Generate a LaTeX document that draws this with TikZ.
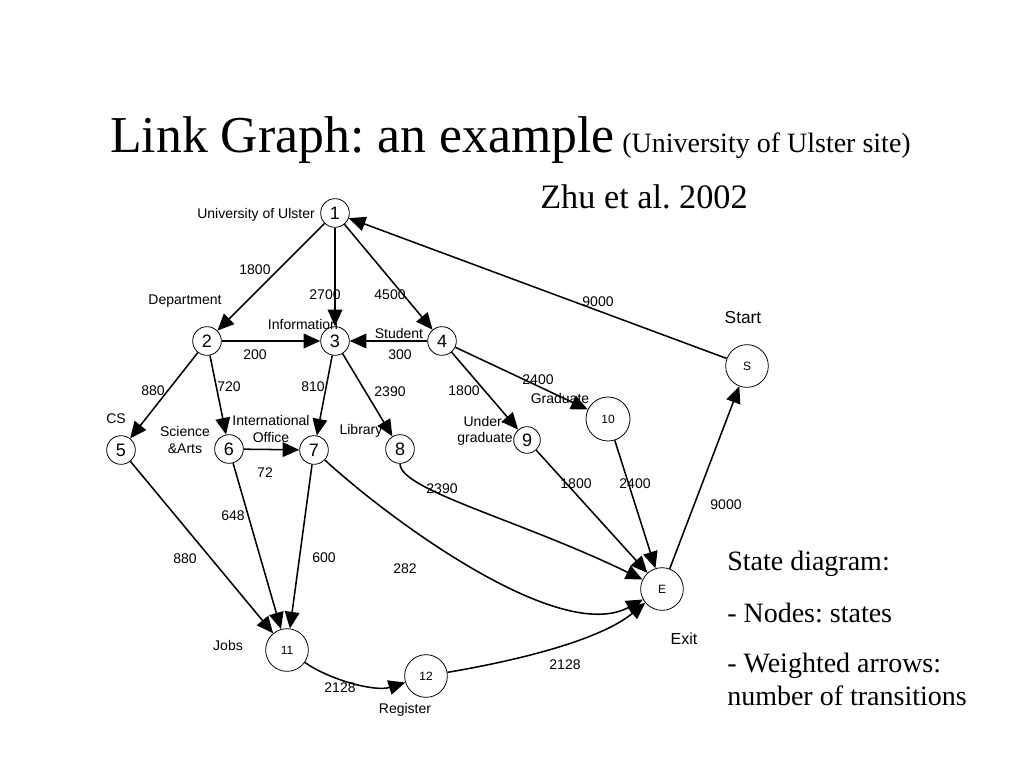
\documentclass[tikz,border=0pt]{standalone}
\usepackage{fontspec}
\setmainfont{Liberation Serif}
\setsansfont{Liberation Sans}
\usetikzlibrary{arrows.meta}
\frenchspacing
\begin{document}
\begin{tikzpicture}[x=0.75pt,y=-0.75pt,
  st/.style={circle,draw,line width=0.6pt,inner sep=0pt,minimum size=21.5pt,font=\sffamily\fontsize{13.5}{13.5}\selectfont},
  bst/.style={circle,draw,line width=0.6pt,inner sep=0pt,minimum size=32pt,font=\sffamily\fontsize{9}{9}\selectfont},
  lab/.style={font=\sffamily\fontsize{10.5}{12.5}\selectfont,inner sep=0pt,align=center},
  wt/.style={font=\sffamily\fontsize{10.5}{12}\selectfont,inner sep=0pt},
  big/.style={font=\fontsize{21}{21}\selectfont,inner sep=0pt,anchor=base west},
  edge/.style={line width=1.15pt,-{Triangle[length=12.5pt,width=11pt]}},
]
\useasboundingbox (0,0) rectangle (1024,768);

% titles
\node[font=\fontsize{38.8}{38.8}\selectfont,inner sep=0pt,anchor=base west] (title) at (110,152) {Link Graph: an example};
\node[font=\fontsize{21}{21}\selectfont,inner sep=0pt,anchor=base west] (sub) at (622,152) {(University of Ulster site)};
\node[font=\fontsize{25.7}{25.7}\selectfont,inner sep=0pt,anchor=base west] (zhu) at (540,208) {Zhu et al. 2002};

\node[big] (t1) at (727,570) {State diagram:};
\node[big] (t2) at (727,622) {- Nodes: states};
\node[big] (t3) at (727,672) {- Weighted arrows:};
\node[big] (t4) at (727,705) {number of transitions};

% nodes
\node[st] (n1) at (335,213) {1};
\node[st] (n2) at (207,341) {2};
\node[st] (n3) at (335,341) {3};
\node[st] (n4) at (442,341) {4};
\node[st] (n5) at (121,450) {5};
\node[st] (n6) at (229,449) {6};
\node[st] (n7) at (314,450) {7};
\node[st] (n8) at (400,449) {8};
\node[st,minimum size=20pt] (n9) at (527,440) {9};
\node[bst,minimum size=33pt] (n10) at (608,419) {10};
\node[bst] (nS) at (747,366) {S};
\node[bst] (nE) at (662,589) {E};
\node[bst] (n11) at (287,650) {11};
\node[bst] (n12) at (426,676) {12};

% node labels
\node[lab,anchor=east] (l1) at (315,215) {University of Ulster};
\node[lab] (l2) at (185,301) {Department};
\node[lab] (l3) at (303,324) {Information};
\node[lab] (l4) at (399,333) {Student};
\node[lab] (l5) at (116,419) {CS};
\node[lab] (l6) at (185,440) {Science\\\&Arts};
\node[lab] (l7) at (271,429) {International\\Office};
\node[lab] (l8) at (361,431) {Library};
\node[lab] (l9) at (485,431) {Under-\\graduate};
\node[lab] (l10) at (560,398) {Graduate};
\node[lab,font=\sffamily\fontsize{13}{13}\selectfont] (lS) at (743,318) {Start};
\node[lab,font=\sffamily\fontsize{12}{12}\selectfont] (lE) at (684,639) {Exit};
\node[lab] (l11) at (228,645) {Jobs};
\node[lab] (l12) at (405,710) {Register};

% edges
\draw[edge] (n1) -- (n2);
\draw[edge] (n1) -- (n3);
\draw[edge] (n1) -- (n4);
\draw[edge] (nS) -- (n1);
\draw[edge] (n2) -- (n3);
\draw[edge] (n4) -- (n3);
\draw[edge] (n2) -- (n5);
\draw[edge] (n2) -- (n6);
\draw[edge] (n3) -- (n7);
\draw[edge] (n3) -- (n8);
\draw[edge] (n4) -- (n9);
\draw[edge] (n4) -- (n10);
\draw[edge] (n6) -- (n7);
\draw[edge] (n5) -- (n11);
\draw[edge] (n6) -- (n11);
\draw[edge] (n7) -- (n11);
\draw[edge] (n9) -- (nE);
\draw[edge] (n10) -- (nE);
\draw[edge] (nE) -- (nS);
\draw[edge] (n7) .. controls (390,520) and (560,645) .. (nE);
\draw[edge] (n8) .. controls (400,490) and (520,520) .. (nE);
\draw[edge] (n11) .. controls (330,680) and (375,692) .. (n12);
\draw[edge] (n12) .. controls (520,660) and (600,640) .. (nE);

% weights
\node[wt] (w12) at (255,270) {1800};
\node[wt] (w13) at (325,295) {2700};
\node[wt] (w14) at (390,295) {4500};
\node[wt] (wS1) at (598,302) {9000};
\node[wt] (w23) at (255,355) {200};
\node[wt] (w43) at (400,355) {300};
\node[wt] (w25) at (153,391) {880};
\node[wt] (w26) at (229,387) {720};
\node[wt] (w37) at (313,387) {810};
\node[wt] (w38) at (390,392) {2390};
\node[wt] (w49) at (464,391) {1800};
\node[wt] (w410) at (538,380) {2400};
\node[wt] (w67) at (265,473) {72};
\node[wt] (w511) at (185,559) {880};
\node[wt] (w611) at (233,516) {648};
\node[wt] (w711) at (324,558) {600};
\node[wt] (w7E) at (405,569) {282};
\node[wt] (w8E) at (442,489) {2390};
\node[wt] (w9E) at (576,484) {1800};
\node[wt] (w10E) at (635,484) {2400};
\node[wt] (wES) at (726,505) {9000};
\node[wt] (w1112) at (340,688) {2128};
\node[wt] (w12E) at (565,665) {2128};
\end{tikzpicture}
\end{document}
